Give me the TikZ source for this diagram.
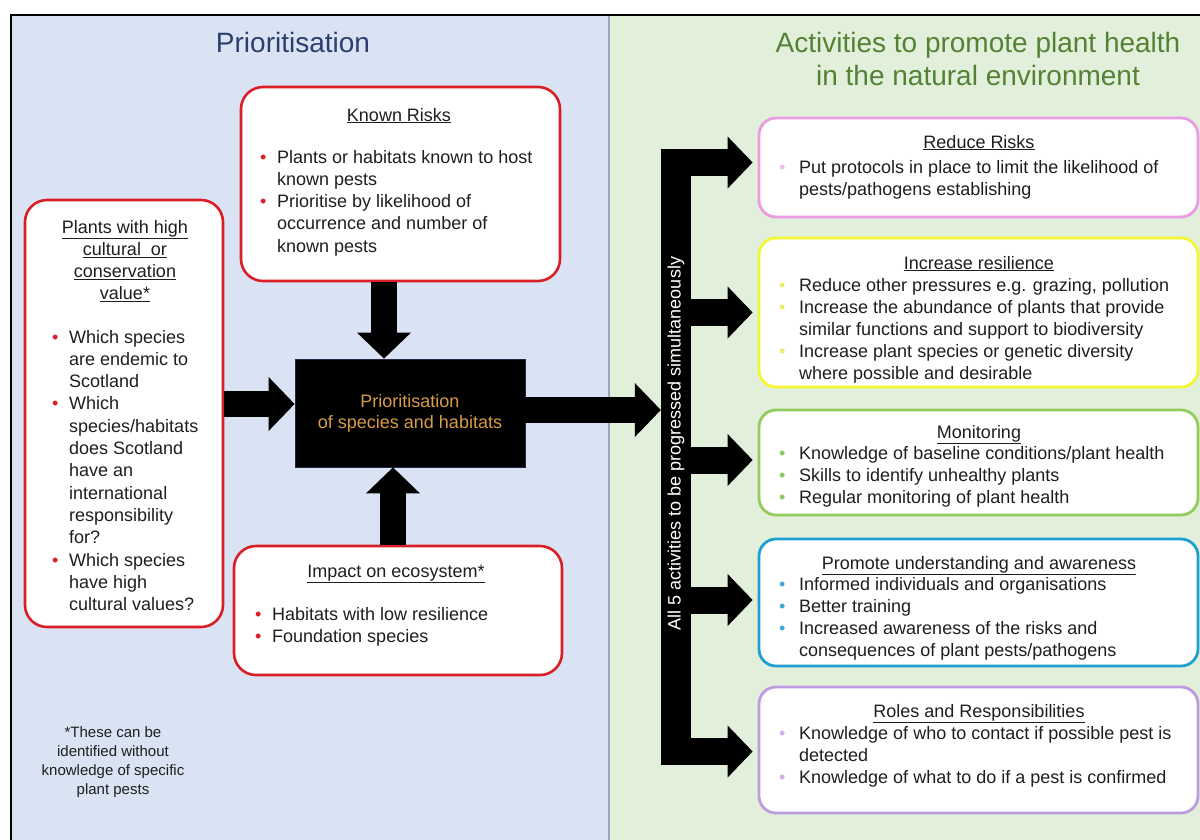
\documentclass[tikz,border=0pt]{standalone}
\usepackage{fontspec}
\setmainfont{Liberation Sans}
\usetikzlibrary{arrows.meta}
\definecolor{bgblue}{RGB}{218,227,243}
\definecolor{bggreen}{RGB}{226,239,218}
\definecolor{divcol}{RGB}{150,165,185}
\definecolor{boxred}{RGB}{218,30,38}
\definecolor{titleblue}{RGB}{44,62,110}
\definecolor{titlegreen}{RGB}{84,130,53}
\definecolor{orangetxt}{RGB}{214,156,72}
\definecolor{bodytxt}{RGB}{30,30,30}
\definecolor{pinkc}{RGB}{235,155,228}
\definecolor{yellowc}{RGB}{245,245,50}
\definecolor{greenc}{RGB}{146,204,90}
\definecolor{bluec}{RGB}{30,160,210}
\definecolor{lavc}{RGB}{188,155,222}
\definecolor{pinkb}{RGB}{240,190,235}
\definecolor{yellowb}{RGB}{235,235,110}
\definecolor{greenb}{RGB}{140,200,100}
\definecolor{blueb}{RGB}{60,170,210}
\definecolor{lavb}{RGB}{210,175,228}
\newcommand{\fsz}[2]{\fontsize{#1}{#2}\selectfont}
\newcommand{\bu}[1]{\makebox[17pt][l]{\textcolor{#1}{\textbullet}}}
\newcommand{\bur}[1]{\makebox[20pt][l]{\textcolor{#1}{\textbullet}}}
\begin{document}
\begin{tikzpicture}[x=1pt,y=-1pt,
  redbox/.style={draw=boxred, line width=2.6pt, rounded corners=22pt, fill=white, inner sep=0pt},
  actbox/.style={line width=2.8pt, rounded corners=17pt, fill=white, inner sep=0pt, minimum width=439pt},
  hd/.style={anchor=base, inner sep=0pt, text=bodytxt, font=\fsz{18}{22.3}},
  lst/.style={anchor=base west, inner sep=0pt, text=bodytxt, font=\fsz{18}{22.3}},
  rhd/.style={anchor=base, inner sep=0pt, text=bodytxt, font=\fsz{18}{22}},
  rlst/.style={anchor=base west, inner sep=0pt, text=bodytxt, font=\fsz{18}{22}},
  blockarrow/.style={line width=26pt, -{Triangle[width=54pt,length=26pt,line width=0pt]}},
  brarrow/.style={line width=27pt, shorten >=5pt, -{Triangle[width=52pt,length=25pt,line width=0pt]}}
]
\useasboundingbox (0,0) rectangle (1200,839);
\clip (0,0) rectangle (1200,839);
\fill[white] (0,0) rectangle (1200,839);
\fill[bgblue] (11,15) rectangle (609,850);
\fill[bggreen] (609,15) rectangle (1210,850);
\draw[divcol, line width=1.5pt] (609,15) -- (609,850);
\draw[line width=2pt] (11,850) -- (11,15) -- (1210,15);

% titles
\node[font=\fsz{28}{33}, text=titleblue, anchor=base, inner sep=0pt] (t1) at (293,52) {Prioritisation};
\node[font=\fsz{28}{33}, text=titlegreen, anchor=base, inner sep=0pt] (t2) at (978,52) {\begin{tabular}[t]{@{}c@{}}Activities to promote plant health\\ in the natural environment\end{tabular}};

% known risks
\node[redbox, minimum width=319pt, minimum height=194pt] (kr) at (400.5,184) {};
\node[hd] (krh) at (399,121) {\underline{Known Risks}};
\node[lst] (krl) at (260,163) {\begin{tabular}[t]{@{}l@{}l@{}}\bu{boxred}&Plants or habitats known to host\\ &known pests\\ \bu{boxred}&Prioritise by likelihood of\\ &occurrence and number of\\ &known pests\end{tabular}};

% plants box
\node[redbox, minimum width=198pt, minimum height=427pt] (pl) at (124,413.5) {};
\node[hd] (plh) at (125,233) {\begin{tabular}[t]{@{}c@{}}\underline{Plants with high}\\ \underline{cultural\ \ or}\\ \underline{conservation}\\ \underline{value*}\end{tabular}};
\node[lst] (pll) at (52,343) {\begin{tabular}[t]{@{}l@{}l@{}}\bu{boxred}&Which species\\ &are endemic to\\ &Scotland\\ \bu{boxred}&Which\\ &species/habitats\\ &does Scotland\\ &have an\\ &international\\ &responsibility\\ &for?\\ \bu{boxred}&Which species\\ &have high\\ &cultural values?\end{tabular}};

% impact box
\node[redbox, minimum width=328pt, minimum height=129pt] (im) at (398,610.5) {};
\node[hd] (imh) at (396,577) {\underline{Impact on ecosystem*}};
\node[lst] (iml) at (255,620) {\begin{tabular}[t]{@{}l@{}l@{}}\bu{boxred}&Habitats with low resilience\\ \bu{boxred}&Foundation species\end{tabular}};

% centre box
\node[fill=black, draw={rgb,255:red,30;green,40;blue,70}, line width=0.8pt, minimum width=230pt, minimum height=108pt, text=orangetxt, align=center, font=\fsz{18}{21}] (cb) at (410,413) {Prioritisation\\ of species and habitats};

% footnote
\node[anchor=base, inner sep=0pt, text=bodytxt, font=\fsz{15}{19}] (fn) at (113,737) {\begin{tabular}[t]{@{}c@{}}*These can be\\ identified without\\ knowledge of specific\\ plant pests\end{tabular}};

% vertical bar
\node[fill=black, minimum width=30pt, minimum height=616pt, inner sep=0pt] (bar) at (676,457) {};
\node[rotate=90, text=white, font=\fsz{18}{20}, inner sep=0pt] (bart) at (676,443.5) {All 5 activities to be progressed simultaneously};

% right boxes
\node[actbox, draw=pinkc, minimum height=99pt] (rr) at (978.5,167.5) {};
\node[rhd] (rrh) at (979,148) {\underline{Reduce Risks}};
\node[rlst] (rrl) at (779,173) {\begin{tabular}[t]{@{}l@{}l@{}}\bur{pinkb}&Put protocols in place to limit the likelihood of\\ &pests/pathogens establishing\end{tabular}};

\node[actbox, draw=yellowc, minimum height=149pt] (ir) at (978.5,312.5) {};
\node[rhd] (irh) at (979,269) {\underline{Increase resilience}};
\node[rlst] (irl) at (779,291) {\begin{tabular}[t]{@{}l@{}l@{}}\bur{yellowb}&Reduce other pressures e.g. grazing, pollution\\ \bur{yellowb}&Increase the abundance of plants that provide\\ &similar functions and support to biodiversity\\ \bur{yellowb}&Increase plant species or genetic diversity\\ &where possible and desirable\end{tabular}};

\node[actbox, draw=greenc, minimum height=105pt] (mo) at (978.5,462.5) {};
\node[rhd] (moh) at (979,438) {\underline{Monitoring}};
\node[rlst] (mol) at (779,459) {\begin{tabular}[t]{@{}l@{}l@{}}\bur{greenb}&Knowledge of baseline conditions/plant health\\ \bur{greenb}&Skills to identify unhealthy plants\\ \bur{greenb}&Regular monitoring of plant health\end{tabular}};

\node[actbox, draw=bluec, minimum height=127pt] (pu) at (978.5,602.5) {};
\node[rhd] (puh) at (979,569) {\underline{Promote understanding and awareness}};
\node[rlst] (pul) at (779,590) {\begin{tabular}[t]{@{}l@{}l@{}}\bur{blueb}&Informed individuals and organisations\\ \bur{blueb}&Better training\\ \bur{blueb}&Increased awareness of the risks and\\ &consequences of plant pests/pathogens\end{tabular}};

\node[actbox, draw=lavc, minimum height=126pt] (ro) at (978.5,750) {};
\node[rhd] (roh) at (979,717) {\underline{Roles and Responsibilities}};
\node[rlst] (rol) at (779,739) {\begin{tabular}[t]{@{}l@{}l@{}}\bur{lavb}&Knowledge of who to contact if possible pest is\\ &detected\\ \bur{lavb}&Knowledge of what to do if a pest is confirmed\end{tabular}};

% arrows into centre box
\draw[blockarrow] (kr.south -| 384,0) -- (cb.north -| 384,0);
\draw[blockarrow] (im.north -| 393,0) -- (cb.south -| 393,0);
\draw[blockarrow] (pl.east |- 0,404) -- (cb.west |- 0,404);
\draw[blockarrow] (cb.east |- 0,410) -- (bar.west |- 0,410);

% branch arrows
\draw[brarrow] (bar.east |- 0,162.5) -- (rr.west |- 0,162.5);
\draw[brarrow] (bar.east |- 0,312.5) -- (ir.west |- 0,312.5);
\draw[brarrow] (bar.east |- 0,460) -- (mo.west |- 0,460);
\draw[brarrow] (bar.east |- 0,600) -- (pu.west |- 0,600);
\draw[brarrow] (bar.east |- 0,751.5) -- (ro.west |- 0,751.5);
\end{tikzpicture}
\end{document}
